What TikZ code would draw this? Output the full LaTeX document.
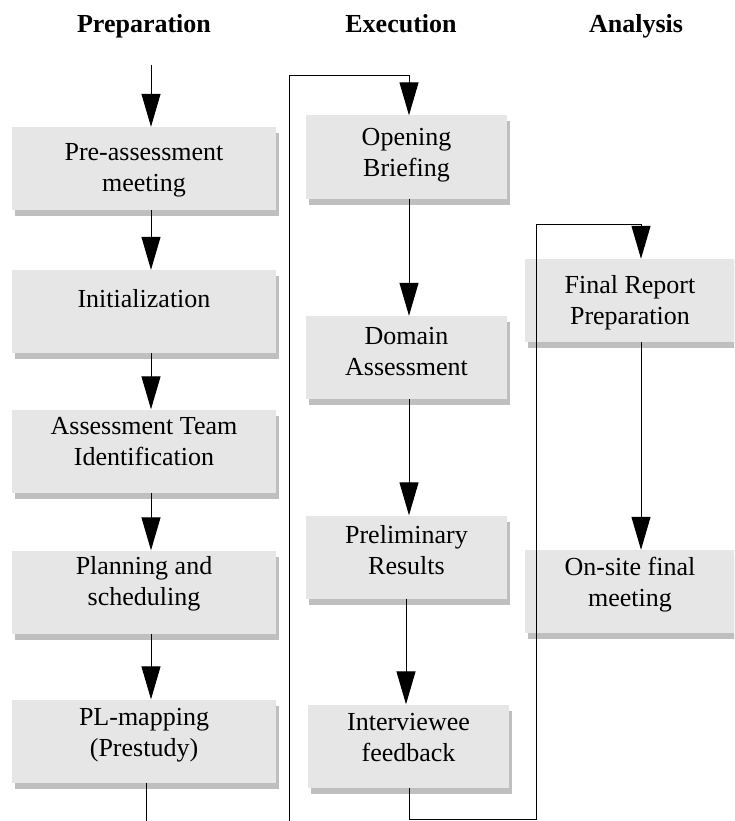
\documentclass[tikz,border=0pt]{standalone}
\usepackage{fontspec}
\setmainfont{Liberation Serif}
\usetikzlibrary{arrows.meta,shadows}
\definecolor{boxfill}{HTML}{E6E6E6}
\definecolor{boxshade}{HTML}{BFBFBF}

\begin{document}
\begin{tikzpicture}[x=1pt,y=-1pt,
  stage/.style={rectangle, fill=boxfill, draw=none, inner sep=0pt,
    minimum height=83pt,
    general shadow={fill=boxshade, shadow xshift=3pt, shadow yshift=-6pt}},
  prepbox/.style={stage, minimum width=264pt},
  execbox/.style={stage, minimum width=201pt},
  anabox/.style={stage, minimum width=210pt},
  caption/.style={align=center, inner sep=0pt,
    font=\fontsize{26}{31}\selectfont},
  header/.style={anchor=base, inner sep=0pt,
    font=\fontsize{26}{30}\selectfont\bfseries},
  flow/.style={line width=1pt, draw=black},
  arr/.style={flow, -{Triangle[length=33pt,width=19pt]}}]

\useasboundingbox (0,0) rectangle (734,821);
\clip (0,0) rectangle (734,821);

% column headings
\node[header] (hprep) at (144,33) {Preparation};
\node[header] (hexec) at (401,33) {Execution};
\node[header] (hana)  at (636,33) {Analysis};

% preparation phase
\node[prepbox] (pre)  at (144,168.5) {};
\node[prepbox] (init) at (144,311.5) {};
\node[prepbox] (ati)  at (144,451)   {};
\node[prepbox] (plan) at (144,592)   {};
\node[prepbox] (pl)   at (144,741)   {};

% execution phase
\node[execbox] (open) at (406.5,157)   {};
\node[execbox] (dom)  at (406.5,357.5) {};
\node[execbox] (prel) at (406.5,557)   {};
\node[execbox] (intv) at (408.5,746)   {};

% analysis phase
\node[anabox] (fin)    at (630,300.5) {};
\node[anabox] (onsite) at (630,591.5) {};

% box captions
\node[caption] (preT)  at (144,169.5) {\strut Pre-assessment\\\strut meeting};
\node[caption] (initT) at (144,301.5) {\strut Initialization};
\node[caption] (atiT)  at (144,444)   {\strut Assessment Team\\\strut Identification};
\node[caption] (planT) at (144,584)   {\strut Planning and\\\strut scheduling};
\node[caption] (plT)   at (144,735)   {\strut PL-mapping\\\strut (Prestudy)};
\node[caption] (openT) at (406.5,154.3) {\strut Opening\\\strut Briefing};
\node[caption] (domT)  at (406.5,353.5) {\strut Domain\\\strut Assessment};
\node[caption] (prelT) at (406.5,552.5) {\strut Preliminary\\\strut Results};
\node[caption] (intvT) at (408.5,739.3) {\strut Interviewee\\\strut feedback};
\node[caption] (finT)  at (630,303)   {\strut Final Report\\\strut Preparation};
\node[caption] (onT)   at (630,584.3) {\strut On-site final\\\strut meeting};

% guide coordinates for the connector lanes
\coordinate (top1)  at (151,65);
\coordinate (c1)    at (151,0);
\coordinate (end1)  at (146,821);
\coordinate (loopA) at (289,821);
\coordinate (loopB) at (289,76);
\coordinate (c2)    at (409,0);
\coordinate (c3)    at (406,0);
\coordinate (lowR)  at (536,819);
\coordinate (turn)  at (536,224);
\coordinate (c4)    at (641,0);

% preparation flow
\draw[arr] (top1) -- (pre.north -| top1);
\draw[arr] (pre.south -| c1)  -- (init.north -| c1);
\draw[arr] (init.south -| c1) -- (ati.north -| c1);
\draw[arr] (ati.south -| c1)  -- (plan.north -| c1);
\draw[arr] (plan.south -| c1) -- (pl.north -| c1);
\draw[flow] (pl.south -| end1) -- (end1);

% execution flow
\draw[arr] (loopA) -- (loopB) -| (open.north -| c2);
\draw[arr] (open.south -| c2) -- (dom.north -| c2);
\draw[arr] (dom.south -| c2)  -- (prel.north -| c2);
\draw[arr] (prel.south -| c3) -- (intv.north -| c3);

% hand-over to analysis
\draw[arr] (intv.south -| c2) |- (lowR) -- (turn) -| (fin.north -| c4);
\draw[arr] (fin.south -| c4) -- (onsite.north -| c4);
\end{tikzpicture}
\end{document}
